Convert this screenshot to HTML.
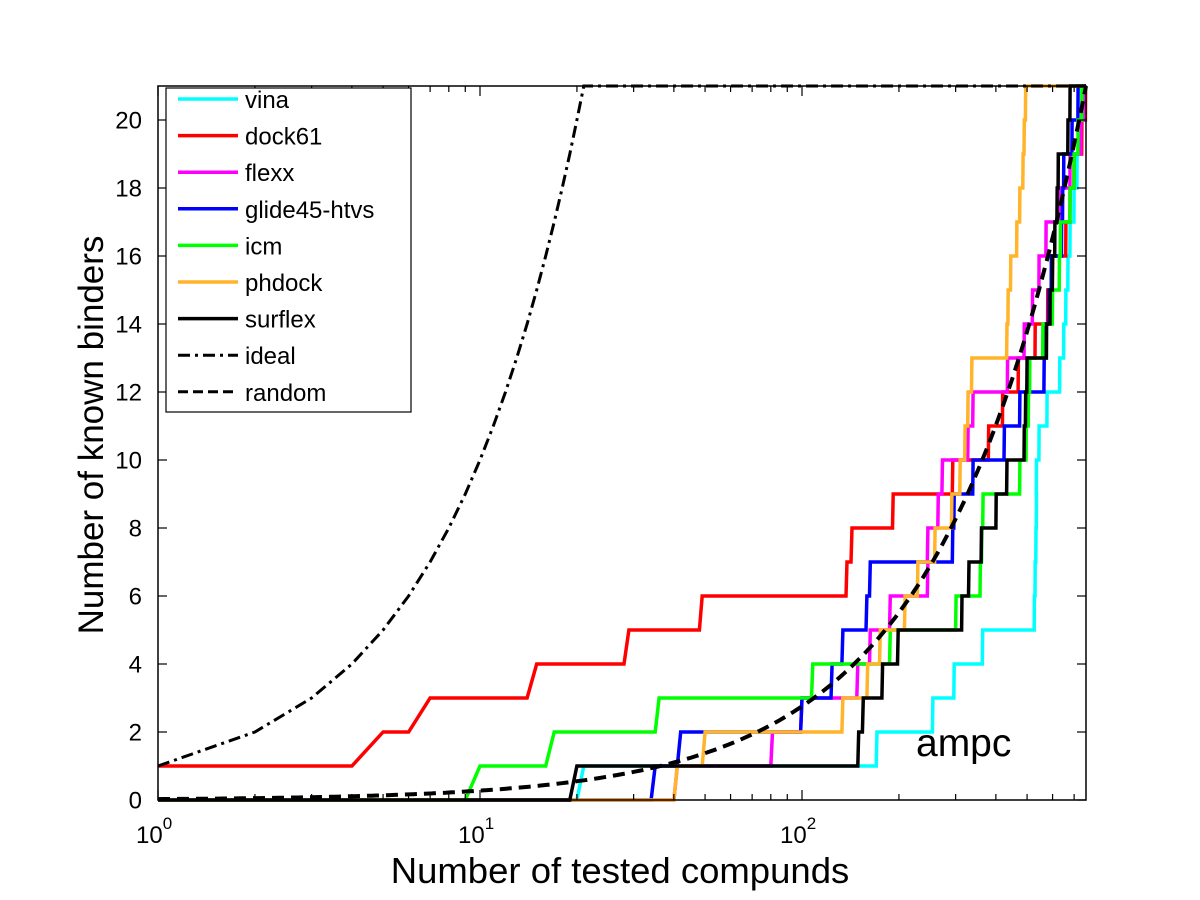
<!DOCTYPE html>
<html><head><meta charset="utf-8"><style>
body{margin:0;background:#fff}
svg{display:block;font-family:"Liberation Sans",Arial,sans-serif}
</style></head><body>
<svg id="chart" width="1200" height="900" viewBox="0 0 1200 900"></svg>
<script>
const N = 762;
const seriesNames = ["vina","dock61","flexx","glide45-htvs","icm","phdock","surflex"];
const seriesColors = ["#00ffff","#ff0000","#ff00ff","#0000ff","#00ff00","#ffb42a","#000000"];
const vinaHits = [21,171,255,297,364,527,530,533,535,535,545,577,632,650,660,670,680,700,715,735,750];
const dock61Hits = [1,5,7,15,29,49,138,143,192,294,380,420,470,530,580,600,660,680,700,740,760];
const flexxHits = [41,81,100,149,163,188,246,246,265,273,328,340,435,490,520,545,573,630,680,735,750];
const glideHits = [35,42,100,124,134,159,163,294,297,340,425,475,565,573,585,595,640,645,650,690,720];
const icmHits = [10,17,36,108,188,301,358,362,365,475,497,505,510,560,600,630,635,680,700,720,740];
const phdockHits = [41,50,134,160,175,209,229,259,292,310,321,328,337,433,437,445,465,475,486,490,495];
const surflexHits = [20,150,155,178,199,314,330,361,401,433,490,495,500,575,590,600,610,620,625,670,680];
const allHits = [vinaHits,dock61Hits,flexxHits,glideHits,icmHits,phdockHits,surflexHits];
const yTicks = [0,2,4,6,8,10,12,14,16,18,20];
const xDecades = [0,1,2];
const totalBinders = 21;

const L=158,R=1086,T=86,B=800;
const logMax=Math.log10(N);
const xs=v=>L+Math.log10(v)/logMax*(R-L);
const ys=v=>B-v/21*(B-T);
const svg=document.getElementById('chart');
const NS='http://www.w3.org/2000/svg';
function mk(tag,attrs,parent){const e=document.createElementNS(NS,tag);for(const k in attrs)e.setAttribute(k,attrs[k]);(parent||svg).appendChild(e);return e;}

const frame=mk('rect',{x:L,y:T,width:R-L,height:B-T,fill:'#fff',stroke:'none'});



const gS=mk('g',{});


allHits.forEach((hits,i)=>{
  const h=hits.slice().sort((a,b)=>a-b);
  let c0=h.filter(r=>r<=1).length;
  const pts=[[1,c0]];
  h.forEach((r,k)=>{ if(r>1){pts.push([r-1,k]);pts.push([r,k+1]);} });
  pts.push([N,h.length]);
  const p=mk('polyline',{points:pts.map(q=>xs(q[0]).toFixed(1)+','+ys(q[1]).toFixed(1)).join(' '),fill:'none',stroke:seriesColors[i],'stroke-width':3.5,'stroke-linejoin':'miter'},gS);
  
  
});
const idealPts=[];
for(let n=1;n<=totalBinders;n++)idealPts.push([n,n]);
idealPts.push([N,totalBinders]);
const ideal=mk('polyline',{points:idealPts.map(q=>xs(q[0]).toFixed(1)+','+ys(q[1]).toFixed(1)).join(' '),fill:'none',stroke:'#000','stroke-width':3,'stroke-dasharray':'12,5,3,5'},gS);


const rndPts=[];
for(let i=0;i<=200;i++){const v=Math.pow(N,i/200);rndPts.push([v,totalBinders*v/N]);}
const rnd=mk('polyline',{points:rndPts.map(q=>xs(q[0]).toFixed(1)+','+ys(q[1]).toFixed(1)).join(' '),fill:'none',stroke:'#000','stroke-width':4,'stroke-dasharray':'12,7'},gS);



const box=mk('rect',{x:L,y:T,width:R-L,height:B-T,fill:'none',stroke:'#000','stroke-width':1.5});



yTicks.forEach(v=>{
  const y=ys(v);
  mk('line',{x1:L,y1:y,x2:L+9,y2:y,stroke:'#000','stroke-width':1.2});
  mk('line',{x1:R,y1:y,x2:R-9,y2:y,stroke:'#000','stroke-width':1.2});
  const t=mk('text',{x:L-16,y:y+8.5,'text-anchor':'end','font-size':24});
  t.textContent=v;
  
  
});
xDecades.forEach(d=>{
  for(let m=1;m<10;m++){
    const v=m*Math.pow(10,d); if(v>N)break;
    const x=xs(v), len=m===1?10:6;
    mk('line',{x1:x,y1:B,x2:x,y2:B-len,stroke:'#000','stroke-width':1.2});
    mk('line',{x1:x,y1:T,x2:x,y2:T+len,stroke:'#000','stroke-width':1.2});
  }
  const x=xs(Math.pow(10,d));
  const t=mk('text',{x:x-22,y:843,'font-size':24});
  t.textContent='10';
  const s=mk('tspan',{dy:-14,'font-size':17},t);
  s.textContent=d;
  
  
});

const xt=mk('text',{x:620,y:883,'text-anchor':'middle','font-size':36.5});
xt.textContent='Number of tested compunds';


const yt=mk('text',{x:0,y:0,'text-anchor':'middle','font-size':35,transform:'translate(103,435) rotate(-90)'});
yt.textContent='Number of known binders';


const am=mk('text',{x:916,y:756,'font-size':39});
am.textContent='ampc';



const lg=mk('g',{});


mk('rect',{x:166,y:88,width:245,height:324,fill:'#fff',stroke:'#000','stroke-width':1.2},lg);
const legNames=seriesNames.concat(['ideal','random']);
legNames.forEach((n,i)=>{
  const y=99+i*36.6;
  const e=mk('g',{},lg);
  
  
  const attrs={x1:178,y1:y,x2:238,y2:y,stroke:i<7?seriesColors[i]:'#000','stroke-width':i<7?3.5:3};
  if(n==='ideal')attrs['stroke-dasharray']='12,5,3,5';
  if(n==='random')attrs['stroke-dasharray']='10,5';
  mk('line',attrs,e);
  const t=mk('text',{x:245,y:y+9,'font-size':24},e);
  t.textContent=n;
});
</script>
</body></html>
